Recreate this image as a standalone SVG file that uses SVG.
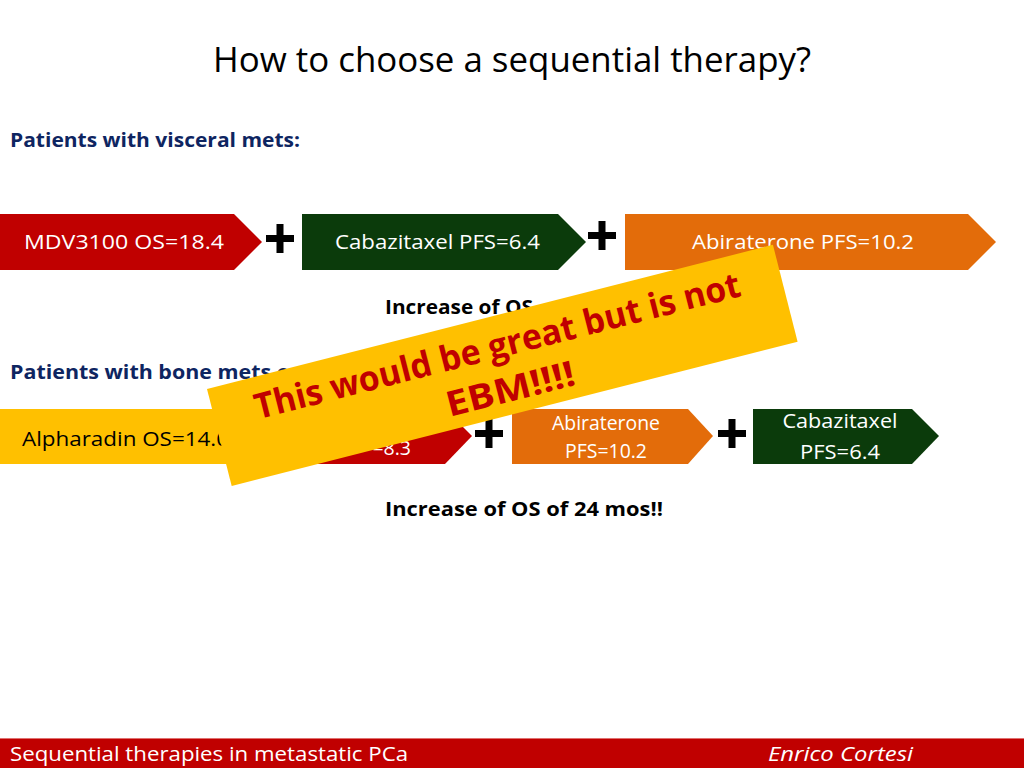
<svg xmlns="http://www.w3.org/2000/svg" width="1024" height="768" viewBox="0 0 1024 768">
<style>
.t{font-family:"Open Sans","Liberation Sans",sans-serif;}
.w{fill:#ffffff;font-size:19.5px;}
.b{font-weight:bold;font-size:20px;}
.plus{fill:#000;}
</style>
<rect width="1024" height="768" fill="#ffffff"/>
<text class="t" x="512" y="72" text-anchor="middle" font-size="35" fill="#000" textLength="598" lengthAdjust="spacingAndGlyphs">How to choose a sequential therapy?</text>
<text class="t b" x="10" y="147" fill="#0E2561" textLength="290" lengthAdjust="spacingAndGlyphs">Patients with visceral mets:</text>

<g id="row1-mdv">
<polygon points="0,214 234,214 262,242 234,270 0,270" fill="#C00000"/>
<text class="t w" x="24" y="249" textLength="200" lengthAdjust="spacingAndGlyphs">MDV3100  OS=18.4</text>
</g>
<g id="plus1" class="plus"><rect x="266" y="235" width="28" height="7"/><rect x="276.5" y="224" width="7" height="29"/></g>
<g id="row1-caba">
<polygon points="302,214 558,214 586,242 558,270 302,270" fill="#0B3B0B"/>
<text class="t w" x="335" y="249" textLength="205" lengthAdjust="spacingAndGlyphs">Cabazitaxel PFS=6.4</text>
</g>
<g id="plus2" class="plus"><rect x="588" y="232" width="28" height="7"/><rect x="598.5" y="221" width="7" height="29"/></g>
<g id="row1-abi">
<polygon points="625,214 968,214 996,242 968,270 625,270" fill="#E36C0A"/>
<text class="t w" x="692" y="249" textLength="222" lengthAdjust="spacingAndGlyphs">Abiraterone PFS=10.2</text>
</g>
<text class="t b" x="385" y="314" fill="#000" textLength="148" lengthAdjust="spacingAndGlyphs">Increase of OS</text>

<text class="t b" x="10" y="379" fill="#0E2561" textLength="280" lengthAdjust="spacingAndGlyphs">Patients with bone mets o</text>

<g id="row2-alpha">
<polygon points="0,409 300,409 300,464 0,464" fill="#FFC000"/>
<text class="t" x="22" y="446" font-size="19.5" fill="#000" textLength="207" lengthAdjust="spacingAndGlyphs">Alpharadin OS=14.0</text>
</g>
<g id="row2-red">
<polygon points="300,409 445,409 472,436 445,464 300,464" fill="#C00000"/>
<text class="t w" x="411" y="455" text-anchor="end">=8.3</text>
</g>
<g id="plus3" class="plus"><rect x="475" y="430" width="28" height="7"/><rect x="485.5" y="419" width="7" height="29"/></g>
<g id="row2-abi">
<polygon points="512,409 688,409 713,436 688,464 512,464" fill="#E36C0A"/>
<text class="t w" x="606" y="430" text-anchor="middle" font-size="18" textLength="108" lengthAdjust="spacingAndGlyphs">Abiraterone</text>
<text class="t w" x="606" y="458" text-anchor="middle" font-size="18" textLength="82" lengthAdjust="spacingAndGlyphs">PFS=10.2</text>
</g>
<g id="plus4" class="plus"><rect x="718" y="430" width="28" height="7"/><rect x="728.5" y="419" width="7" height="29"/></g>
<g id="row2-caba">
<polygon points="753,409 912,409 939,436 912,464 753,464" fill="#0B3B0B"/>
<text class="t w" x="840" y="428" text-anchor="middle" font-size="19.5" textLength="115" lengthAdjust="spacingAndGlyphs">Cabazitaxel</text>
<text class="t w" x="840" y="459" text-anchor="middle" font-size="19.5" textLength="80" lengthAdjust="spacingAndGlyphs">PFS=6.4</text>
</g>
<text class="t b" x="385" y="516" fill="#000" textLength="278" lengthAdjust="spacingAndGlyphs">Increase of OS of 24 mos!!</text>

<g id="banner" transform="translate(207,389) rotate(-14.3)">
<rect x="0" y="0" width="584" height="100" fill="#FFC000"/>
<text class="t" x="292" y="42" text-anchor="middle" font-size="35" font-weight="bold" fill="#C00000" textLength="500" lengthAdjust="spacingAndGlyphs">This would be great but is not</text>
<text class="t" x="294" y="87" text-anchor="middle" font-size="35" font-weight="bold" fill="#C00000" textLength="132" lengthAdjust="spacingAndGlyphs">EBM!!!!</text>
</g>

<g id="footer">
<rect x="0" y="738" width="1024" height="30" fill="#C00000"/>
<rect x="0" y="738" width="1024" height="1" fill="#E07070"/>
<text class="t" x="10" y="761" font-size="19.5" fill="#fff" textLength="398" lengthAdjust="spacingAndGlyphs">Sequential therapies in metastatic PCa</text>
<text class="t" x="768" y="761" font-size="19.5" font-style="italic" fill="#fff" textLength="145" lengthAdjust="spacingAndGlyphs">Enrico  Cortesi</text>
</g>
</svg>
